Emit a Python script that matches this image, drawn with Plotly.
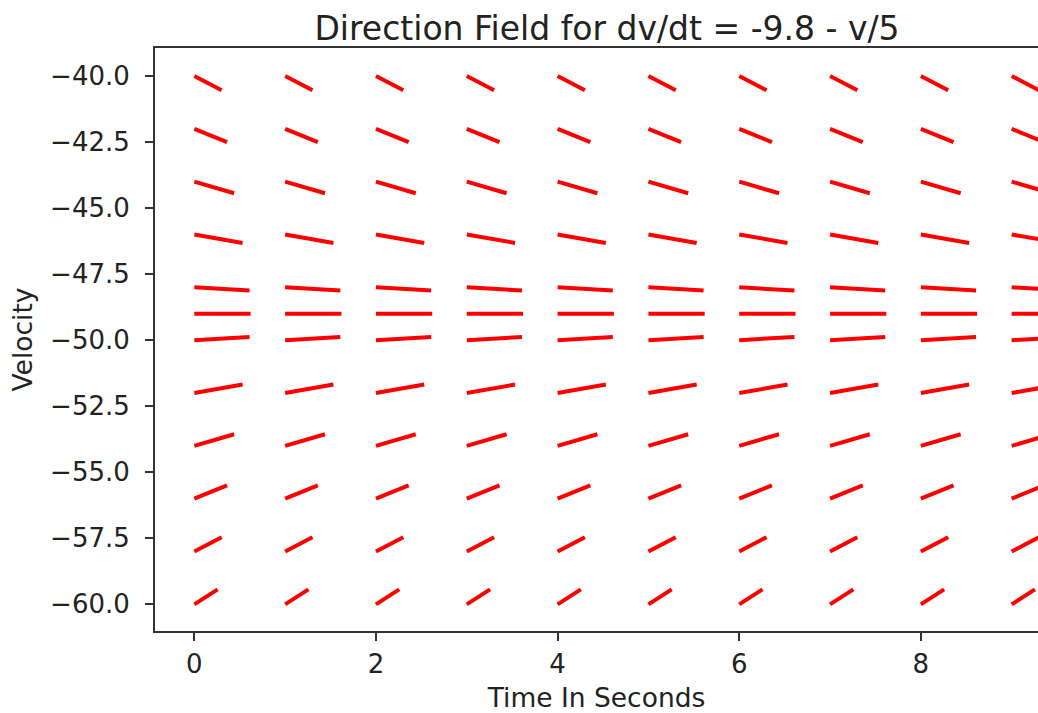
import numpy as np
import plotly.graph_objects as go

# Grid of points where the direction field is sampled
times = [0, 1, 2, 3, 4, 5, 6, 7, 8, 9]
velocities = [-40, -42, -44, -46, -48, -49, -50, -52, -54, -56, -58, -60]
segment_length = 0.62  # length of each direction segment (data units)

x_ticks = [0, 2, 4, 6, 8]
y_ticks = [-60.0, -57.5, -55.0, -52.5, -50.0, -47.5, -45.0, -42.5, -40.0]


def dvdt(v):
    return -9.8 - v / 5


xs, ys = [], []
for t in times:
    for v in velocities:
        s = dvdt(v)
        dt = segment_length / np.sqrt(1 + s * s)
        dv = s * dt
        xs += [t, t + dt, None]
        ys += [v, v + dv, None]

fig = go.Figure()
fig.add_trace(go.Scatter(x=xs, y=ys, mode="lines",
                         line=dict(color="red", width=4),
                         hoverinfo="skip", showlegend=False))

font = "DejaVu Sans, Liberation Sans, sans-serif"
axis_col = "#333333"
fig.update_layout(
    width=1038, height=713,
    margin=dict(l=155, r=0, t=48, b=82),
    paper_bgcolor="white", plot_bgcolor="white",
    font=dict(family=font, size=26, color="#222222"),
    title=dict(text="Direction Field for dv/dt = -9.8 - v/5",
               font=dict(family=font, size=33, color="#222222"),
               xref="container", x=607 / 1038, xanchor="center",
               yref="container", y=1 - 28 / 713, yanchor="middle"),
    xaxis=dict(range=[-0.433, 9.29], tickvals=x_ticks, showgrid=False,
               zeroline=False, showline=True, mirror=True,
               linecolor=axis_col, linewidth=2,
               ticks="outside", ticklen=8, tickwidth=1.6, tickcolor=axis_col,
               ticklabelstandoff=1,
               title=dict(text="Time In Seconds", standoff=13,
                          font=dict(size=26.5))),
    yaxis=dict(range=[-61.01, -38.94], tickvals=y_ticks, tickformat=".1f",
               showgrid=False, zeroline=False, showline=True, mirror=False,
               linecolor=axis_col, linewidth=2,
               ticks="outside", ticklen=8, tickwidth=1.6, tickcolor=axis_col,
               ticklabelstandoff=10,
               title=dict(text="Velocity", standoff=10,
                          font=dict(size=26.5))),
)

fig.write_html("out.html")
